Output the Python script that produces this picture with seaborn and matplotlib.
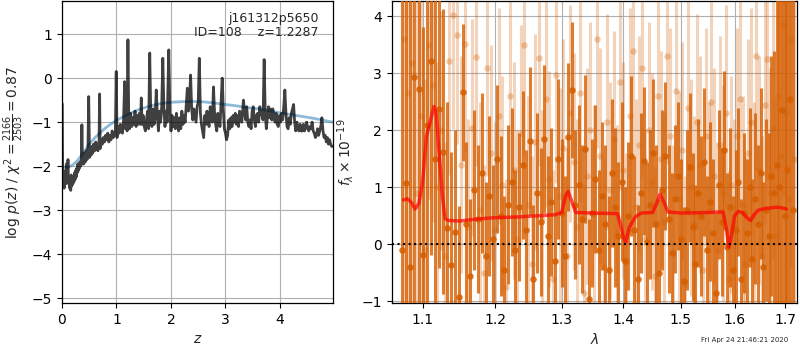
import numpy as np
import matplotlib
matplotlib.use("Agg")
import matplotlib.pyplot as plt
from matplotlib.ticker import NullLocator
import seaborn as sns

# ---------------- redshift probability panel ----------------
z_grid = [0.005, 0.012, 0.02, 0.03, 0.04, 0.05, 0.06, 0.07, 0.08, 0.09, 0.10, 0.11, 0.12, 0.13,
          0.14, 0.15, 0.16, 0.17, 0.18, 0.19, 0.20, 0.21, 0.22, 0.23, 0.24, 0.25, 0.26, 0.27,
          0.28, 0.29, 0.30, 0.31, 0.32, 0.33, 0.34, 0.355, 0.365, 0.375, 0.39, 0.40, 0.415,
          0.43, 0.445, 0.46, 0.475, 0.49, 0.505, 0.52, 0.535, 0.55, 0.565, 0.58, 0.60, 0.62,
          0.64, 0.66, 0.68, 0.69, 0.70, 0.72, 0.74, 0.76, 0.78, 0.80, 0.82, 0.84, 0.86, 0.88,
          0.90, 0.92, 0.94, 0.96, 0.98, 0.995, 1.01, 1.03, 1.05, 1.07, 1.09, 1.11, 1.13, 1.15,
          1.165, 1.18, 1.195, 1.21, 1.225, 1.24, 1.26, 1.28, 1.30, 1.32, 1.34, 1.36, 1.38, 1.40,
          1.42, 1.44, 1.455, 1.47, 1.49, 1.51, 1.53, 1.55, 1.57, 1.59, 1.61, 1.63, 1.65, 1.67,
          1.69, 1.71, 1.73, 1.75, 1.77, 1.79, 1.81, 1.83, 1.85, 1.87, 1.89, 1.91, 1.93, 1.96,
          1.98, 2.00, 2.02, 2.04, 2.06, 2.08, 2.10, 2.12, 2.14, 2.16, 2.18, 2.20, 2.22, 2.24,
          2.26, 2.28, 2.30, 2.32, 2.34, 2.36, 2.38, 2.40, 2.42, 2.44, 2.46, 2.48, 2.50, 2.52,
          2.54, 2.56, 2.58, 2.60, 2.62, 2.64, 2.66, 2.68, 2.70, 2.72, 2.74, 2.76, 2.78, 2.80,
          2.82, 2.84, 2.86, 2.88, 2.90, 2.92, 2.94, 2.96, 2.98, 3.00, 3.02, 3.04, 3.06, 3.08,
          3.10, 3.12, 3.14, 3.16, 3.18, 3.20, 3.22, 3.24, 3.26, 3.28, 3.30, 3.33, 3.35, 3.37,
          3.39, 3.41, 3.43, 3.45, 3.47, 3.49, 3.51, 3.53, 3.55, 3.57, 3.59, 3.61, 3.63, 3.65,
          3.67, 3.69, 3.71, 3.73, 3.75, 3.77, 3.79, 3.81, 3.83, 3.85, 3.87, 3.89, 3.91, 3.93,
          3.95, 3.97, 3.99, 4.01, 4.03, 4.05, 4.07, 4.09, 4.11, 4.13, 4.15, 4.17, 4.19, 4.21,
          4.23, 4.25, 4.27, 4.29, 4.31, 4.33, 4.35, 4.37, 4.39, 4.41, 4.43, 4.45, 4.47, 4.49,
          4.51, 4.53, 4.55, 4.57, 4.59, 4.61, 4.63, 4.65, 4.67, 4.69, 4.71, 4.73, 4.75, 4.77,
          4.79, 4.81, 4.83, 4.85, 4.87, 4.89, 4.91, 4.93, 4.95, 4.97]
log_pz = [-0.58, -2.3, -2.45, -2.2, -2.5, -2.35, -2.1, -2.4, -1.95, -2.3, -2.2, -1.85, -2.4, -2.25,
          -2.5, -2.3, -2.55, -2.2, -2.45, -2.25, -2.4, -2.3, -2.35, -2.15, -2.3, -2.1, -2.25, -2.05,
          -2.15, -1.95, -2.1, -2.0, -2.05, -1.9, -2.0, -1.95, -1.06, -1.95, -1.8, -1.95, -1.7,
          -1.9, -1.65, -1.85, -1.7, -0.42, -1.8, -1.6, -1.75, -1.55, -1.7, -1.5, -1.65, -1.45,
          -1.6, -1.65, -1.45, -0.36, -1.6, -1.4, -1.5, -1.35, -1.45, -1.3, -1.4, -1.25, -1.45, -1.3,
          -1.4, -1.2, -1.35, -1.3, -1.2, 0.15, -1.35, -1.1, -1.25, -1.05, -1.2, -1.25, -0.95, -0.08,
          -1.15, -0.95, -1.2, 0.87, -0.9, -1.15, -0.8, -1.1, -0.9, -1.05, -0.75, -1.1, -0.85, -1.05,
          -0.8, -1.05, -0.45, -1.05, -0.85, -1.1, -1.2, -0.95, -0.75, -1.15, 0.57, -0.9, -1.1, -0.7,
          -1.05, -0.9, -0.27, -0.85, -1.2, -0.75, -1.0, -0.65, 0.45, -0.7, -1.1, -0.75, -1.0, 0.64,
          -0.75, -1.2, -0.85, -1.1, -0.9, -1.15, -0.8, -1.05, -1.2, -0.9, -1.15, -0.75, -1.05, -0.85,
          -1.0, -0.6, -0.23, -0.75, -0.5, 0.07, -0.7, -0.95, -0.7, -0.85, -1.0, -0.65, -0.55, 0.45,
          -0.8, -1.05, -1.2, -1.35, -0.85, -1.05, -0.75, -1.0, -1.1, -0.65, -0.9, -1.0, -0.2, -0.8,
          -1.05, -1.2, -0.8, -1.0, -1.1, -0.55, 0.0, -0.7, -1.15, -1.25, -1.4, -1.3, -0.95, -1.15,
          -0.9, -1.1, -0.85, -1.0, -0.8, -1.05, -0.85, -1.1, -0.75, -0.9, -1.0, -0.5, -0.75, -0.95,
          -0.65, -1.0, -1.1, -0.95, -1.15, -0.75, -0.65, -0.95, -1.1, -0.85, -0.8, -1.0, -0.65, -0.8,
          -0.85, -0.95, 0.42, -0.8, -1.15, -0.9, -0.65, -0.9, -0.7, -0.95, -0.7, -0.85, -1.0, -0.8,
          -1.05, -1.1, -0.85, -1.0, -0.8, -0.95, -0.65, -0.27, -0.8, -1.1, -1.15, -0.9, -1.05, -0.8,
          -0.7, -0.6, -1.0, -1.2, -1.0, -1.15, -1.2, -1.05, -1.2, -1.2, -1.05, -1.2, -1.1, -1.0,
          -1.15, -1.2, -1.1, -1.15, -1.0, -1.2, -1.25, -1.35, -1.3, -1.15, -1.3, -1.2, -1.1, -0.9,
          -1.2, -1.35, -1.3, -1.45, -1.35, -1.5, -1.4, -1.5, -1.55, -1.55]

# smooth prior curve
prior_z = [0.02, 0.1, 0.2, 0.3, 0.4, 0.5, 0.6, 0.7, 0.8, 0.9, 1.0, 1.2, 1.4, 1.6, 1.8, 2.0,
           2.2, 2.4, 2.6, 2.8, 3.0, 3.2, 3.4, 3.6, 3.8, 4.0, 4.2, 4.4, 4.6, 4.8, 4.97]
prior_logp = [-2.02, -2.03, -1.97, -1.85, -1.68, -1.5, -1.36, -1.24, -1.13, -1.04, -0.96, -0.83,
              -0.72, -0.64, -0.58, -0.55, -0.535, -0.53, -0.54, -0.565, -0.6, -0.63, -0.67,
              -0.7, -0.74, -0.79, -0.83, -0.87, -0.91, -0.96, -1.0]

# ---------------- spectrum panel ----------------
wave_a = [1.0730, 1.0784, 1.0838, 1.0892, 1.0946, 1.1000, 1.1054, 1.1108, 1.1162, 1.1216,
          1.1270, 1.1324, 1.1378, 1.1432, 1.1486, 1.1540, 1.1594, 1.1648, 1.1702, 1.1756,
          1.1810, 1.1864, 1.1918, 1.1972, 1.2026, 1.2080, 1.2134, 1.2188, 1.2242, 1.2296,
          1.2350, 1.2404, 1.2458, 1.2512, 1.2566, 1.2620, 1.2674, 1.2728, 1.2782, 1.2836,
          1.2890, 1.2944, 1.2998, 1.3052, 1.3106, 1.3160, 1.3214, 1.3268, 1.3322, 1.3376,
          1.3430, 1.3484, 1.3538, 1.3592, 1.3646, 1.3700, 1.3754, 1.3808, 1.3862, 1.3916,
          1.3970, 1.4024, 1.4078, 1.4132, 1.4186, 1.4240, 1.4294, 1.4348, 1.4402, 1.4456,
          1.4510, 1.4564, 1.4618, 1.4672, 1.4726, 1.4780, 1.4834, 1.4888, 1.4942, 1.4996,
          1.5050, 1.5104, 1.5158, 1.5212, 1.5266, 1.5320, 1.5374, 1.5428, 1.5482, 1.5536,
          1.5590, 1.5644, 1.5698, 1.5752, 1.5806, 1.5860, 1.5914, 1.5968, 1.6022, 1.6076,
          1.6130, 1.6184, 1.6238, 1.6292, 1.6346, 1.6400, 1.6454, 1.6508, 1.6562, 1.6616,
          1.6670, 1.6724, 1.6778, 1.6832, 1.6886, 1.6940, 1.6994, 1.7048, 1.7102, 1.7156]
flux_a = [-0.10, 1.07, -0.40, 2.94, 2.73, -0.19, 2.10, 3.22, 1.49, 2.38,
          1.63, 0.29, -0.37, 0.21, -0.93, 2.67, 0.35, -0.55, 0.95, 0.45,
          1.25, -0.20, 0.85, 0.10, 1.50, 0.50, -0.45, 0.70, 1.10, -0.10,
          0.65, 1.40, 0.25, 1.82, -0.60, 0.90, 0.40, 1.85, 0.15, 0.75,
          -0.30, 1.50, 0.55, -0.20, 1.89, 2.71, 0.70, 1.05, 0.45, 1.68,
          -0.95, 0.55, 1.15, -0.10, 0.85, 0.35, -0.45, 1.25, 0.65, 0.15,
          1.10, -0.30, 0.50, 1.55, 0.25, -0.60, 0.90, 1.46, 0.05, 0.70,
          1.60, 0.35, -0.50, 0.95, 1.55, 0.45, -0.15, 0.80, 1.20, 0.10,
          -0.65, 0.60, 1.35, 0.30, -0.35, 0.90, 0.50, 1.45, -0.10, 0.75,
          0.20, -0.85, 1.05, 0.40, 1.65, -0.05, 0.65, -0.45, 0.25, 1.10,
          -0.60, 0.55, 0.20, 1.00, -0.25, 0.80, 0.35, 1.25, -0.40, 0.60,
          0.15, 1.20, 0.90, 1.40, 1.00, 2.35, 0.50, 1.30, 2.55, 0.60]
err_a = [6.0, 5.5, 5.0, 4.6, 4.3, 4.0, 3.7, 3.4, 3.1, 2.8,
         2.5, 2.2, 2.0, 1.8, 1.6, 1.2, 1.45, 1.35, 1.4, 1.3,
         1.4, 1.3, 1.4, 1.3, 1.3, 1.4, 1.3, 1.4, 1.3, 1.4,
         1.3, 1.3, 1.4, 1.3, 1.3, 1.4, 1.3, 1.3, 1.4, 1.3,
         1.3, 1.4, 1.3, 1.4, 1.3, 1.2, 1.3, 1.4, 1.3, 1.3,
         1.4, 1.3, 1.3, 1.4, 1.3, 1.4, 1.3, 1.3, 1.4, 1.3,
         1.4, 1.3, 1.3, 1.4, 1.3, 1.3, 1.4, 1.3, 1.4, 1.3,
         1.3, 1.4, 1.3, 1.4, 1.3, 1.3, 1.4, 1.3, 1.3, 1.4,
         1.3, 1.4, 1.3, 1.3, 1.4, 1.3, 1.4, 1.3, 1.3, 1.4,
         1.3, 1.4, 1.3, 1.3, 1.4, 1.3, 1.4, 1.3, 1.4, 1.3,
         1.4, 1.4, 1.3, 1.4, 1.4, 1.5, 1.4, 1.5, 1.5, 1.6,
         1.8, 2.1, 2.5, 3.0, 3.5, 4.0, 4.5, 5.0, 5.5, 6.0]

wave_b = [1.0757, 1.0811, 1.0865, 1.0919, 1.0973, 1.1027, 1.1081, 1.1135, 1.1189, 1.1243,
          1.1297, 1.1351, 1.1405, 1.1459, 1.1513, 1.1567, 1.1621, 1.1675, 1.1729, 1.1783,
          1.1837, 1.1891, 1.1945, 1.1999, 1.2053, 1.2107, 1.2161, 1.2215, 1.2269, 1.2323,
          1.2377, 1.2431, 1.2485, 1.2539, 1.2593, 1.2647, 1.2701, 1.2755, 1.2809, 1.2863,
          1.2917, 1.2971, 1.3025, 1.3079, 1.3133, 1.3187, 1.3241, 1.3295, 1.3349, 1.3403,
          1.3457, 1.3511, 1.3565, 1.3619, 1.3673, 1.3727, 1.3781, 1.3835, 1.3889, 1.3943,
          1.3997, 1.4051, 1.4105, 1.4159, 1.4213, 1.4267, 1.4321, 1.4375, 1.4429, 1.4483,
          1.4537, 1.4591, 1.4645, 1.4699, 1.4753, 1.4807, 1.4861, 1.4915, 1.4969, 1.5023,
          1.5077, 1.5131, 1.5185, 1.5239, 1.5293, 1.5347, 1.5401, 1.5455, 1.5509, 1.5563,
          1.5617, 1.5671, 1.5725, 1.5779, 1.5833, 1.5887, 1.5941, 1.5995, 1.6049, 1.6103,
          1.6157, 1.6211, 1.6265, 1.6319, 1.6373, 1.6427, 1.6481, 1.6535, 1.6589, 1.6643,
          1.6697, 1.6751, 1.6805, 1.6859, 1.6913, 1.6967, 1.7021, 1.7075, 1.7129, 1.7183]
flux_b = [3.60, 2.65, 3.18, 0.90, 2.25, -0.10, 3.50, 2.80, 1.00, 2.00,
          -0.20, 3.22, 4.02, 3.67, 1.40, 3.52, 0.30, 2.05, 3.28, 0.60,
          -0.50, 3.10, 1.60, 0.25, 2.25, 1.05, -0.75, 2.60, 1.30, 0.10,
          1.95, 3.50, 0.70, -0.35, 1.80, 3.27, 0.45, 2.55, 1.15, -0.60,
          2.98, 0.85, 1.70, -0.20, 2.30, 1.45, 0.30, 2.65, -0.85, 1.20,
          2.00, 0.55, 3.60, 1.55, -0.40, 2.15, 0.95, 1.85, 0.20, 2.85,
          1.30, -0.30, 2.25, 3.39, 0.65, 1.75, 3.09, 0.10, 2.00, 1.10,
          -0.55, 2.60, 1.50, 0.40, 3.31, 1.90, -0.15, 2.70, 0.80, 1.65,
          -0.70, 2.40, 1.00, 0.35, 2.15, 1.40, -0.45, 1.90, 0.60, 2.50,
          1.20, -0.10, 1.75, 0.90, 2.30, -0.60, 1.05, 0.30, 1.90, 2.55,
          0.70, -0.35, 1.60, 2.15, 0.50, 3.30, 1.30, -0.20, 2.45, 3.25,
          0.90, 2.05, 0.15, 2.60, 1.55, 3.85, 2.30, 0.80, 3.60, 1.50]
err_b = [5.0, 4.6, 4.2, 3.8, 3.4, 3.0, 2.7, 2.4, 2.2, 2.1,
         2.0, 2.0, 2.0, 1.9, 1.9, 1.9, 1.9, 1.9, 1.9, 1.9,
         1.9, 1.9, 1.9, 1.9, 1.9, 1.9, 1.9, 1.9, 1.9, 1.9,
         1.9, 1.9, 1.9, 1.9, 1.9, 1.9, 1.9, 1.9, 1.9, 1.9,
         1.9, 1.9, 1.9, 1.9, 1.9, 1.9, 1.9, 1.9, 1.9, 1.9,
         1.9, 1.9, 1.9, 1.9, 1.9, 1.9, 1.9, 1.9, 1.9, 1.9,
         1.9, 1.9, 1.9, 1.9, 1.9, 1.9, 1.9, 1.9, 1.9, 1.9,
         1.9, 1.9, 1.9, 1.9, 1.9, 1.9, 1.9, 1.9, 1.9, 1.9,
         1.9, 1.9, 1.9, 1.9, 1.9, 1.9, 1.9, 1.9, 1.9, 1.9,
         1.9, 1.9, 1.9, 1.9, 1.9, 1.9, 1.9, 1.9, 1.9, 1.9,
         1.9, 1.9, 2.0, 2.0, 2.0, 2.0, 2.0, 2.1, 2.1, 2.1,
         2.2, 2.3, 2.4, 2.6, 2.8, 3.0, 3.3, 3.6, 4.0, 4.5]

# best-fit template
model_wave = [1.075, 1.080, 1.085, 1.090, 1.095, 1.100, 1.105, 1.110, 1.115, 1.118, 1.122,
              1.126, 1.130, 1.135, 1.15, 1.17, 1.20, 1.23, 1.26, 1.29, 1.300, 1.306, 1.310,
              1.316, 1.322, 1.35, 1.39, 1.395, 1.400, 1.404, 1.410, 1.420, 1.430, 1.450,
              1.457, 1.463, 1.469, 1.477, 1.50, 1.55, 1.578, 1.584, 1.589, 1.594, 1.600,
              1.607, 1.615, 1.625, 1.631, 1.638, 1.646, 1.66, 1.68, 1.69, 1.703]
model_flux = [0.78, 0.80, 0.74, 0.62, 0.72, 1.1, 1.9, 2.15, 2.42, 2.3, 1.6,
              0.9, 0.45, 0.42, 0.41, 0.44, 0.47, 0.48, 0.50, 0.52, 0.56, 0.85, 0.93,
              0.75, 0.56, 0.55, 0.54, 0.35, 0.12, 0.04, 0.3, 0.48, 0.55, 0.56,
              0.72, 0.88, 0.76, 0.57, 0.55, 0.56, 0.57, 0.3, -0.05, 0.15, 0.5,
              0.58, 0.56, 0.46, 0.42, 0.52, 0.6, 0.63, 0.65, 0.65, 0.62]

z_ticks = [0, 1, 2, 3, 4]
logp_ticks = [-5, -4, -3, -2, -1, 0, 1]
wave_ticks = [1.1, 1.2, 1.3, 1.4, 1.5, 1.6, 1.7]
flux_ticks = [-1, 0, 1, 2, 3, 4]

sns.set_theme(style="ticks", rc={
    "axes.grid": True, "grid.color": "#b0b0b0", "grid.linewidth": 0.8,
    "axes.edgecolor": "black", "axes.linewidth": 0.9,
    "xtick.labelsize": 10, "ytick.labelsize": 10, "axes.labelsize": 10,
    "xtick.color": "black", "ytick.color": "black",
})
plt.rcParams["font.family"] = ["DejaVu Sans"]

fig = plt.figure(figsize=(8, 3.5), dpi=100)
ax1 = fig.add_axes([0.0775, 0.134, 0.3385, 0.863])
ax2 = fig.add_axes([0.4896, 0.134, 0.5066, 0.863])

# p(z)
sns.lineplot(x=prior_z, y=prior_logp, ax=ax1, color="#1f77b4", alpha=0.5, lw=2,
             estimator=None, sort=False)
sns.lineplot(x=z_grid, y=log_pz, ax=ax1, color="black", alpha=0.75, lw=2,
             estimator=None, sort=False)
ax1.set_xlim(0, 4.97)
ax1.set_ylim(-5.11, 1.75)
ax1.set_xticks(z_ticks)
ax1.set_yticks(logp_ticks)
ax1.set_xlabel(r"$z$")
ax1.set_ylabel(r"log $p(z)$ / $\chi^2=\frac{2166}{2503}=0.87$")
ax1.text(0.948, 0.965, "j161312p5650\nID=108    z=1.2287", transform=ax1.transAxes,
         ha="right", va="top", fontsize=9, linespacing=1.15)

# spectrum
orange = "#d55e00"
ax2.vlines(wave_b, np.array(flux_b) - np.array(err_b), np.array(flux_b) + np.array(err_b),
           color=orange, alpha=0.27, lw=2.2, zorder=2)
sns.scatterplot(x=wave_b, y=flux_b, ax=ax2, color=orange, alpha=0.3, s=22,
                linewidth=0, zorder=2)
ax2.vlines(wave_a, np.array(flux_a) - np.array(err_a), np.array(flux_a) + np.array(err_a),
           color=orange, alpha=0.8, lw=2.2, zorder=3)
sns.scatterplot(x=wave_a, y=flux_a, ax=ax2, color=orange, alpha=0.85, s=22,
                linewidth=0, zorder=3)
sns.lineplot(x=model_wave, y=model_flux, ax=ax2, color="red", alpha=0.7, lw=2.5,
             estimator=None, sort=False, zorder=4)
ax2.axhline(0, color="black", ls=":", lw=1.5, zorder=5)
ax2.set_xscale("log")
ax2.set_xlim(1.0598, 1.7246)
ax2.set_ylim(-1.03, 4.27)
ax2.set_xticks(wave_ticks)
ax2.set_xticklabels([f"{t:.1f}" for t in wave_ticks])
ax2.xaxis.set_minor_locator(NullLocator())
ax2.set_yticks(flux_ticks)
ax2.set_xlabel(r"$\lambda$")
ax2.set_ylabel(r"$f_\lambda \times 10^{-19}$")

for ax in (ax1, ax2):
    ax.set_axisbelow(True)
    ax.tick_params(direction="out", length=3.5, width=0.8)

fig.text(0.985, 0.02, "Fri Apr 24 21:46:21 2020", ha="right", va="bottom", fontsize=5)

fig.savefig("out.png", dpi=100)
